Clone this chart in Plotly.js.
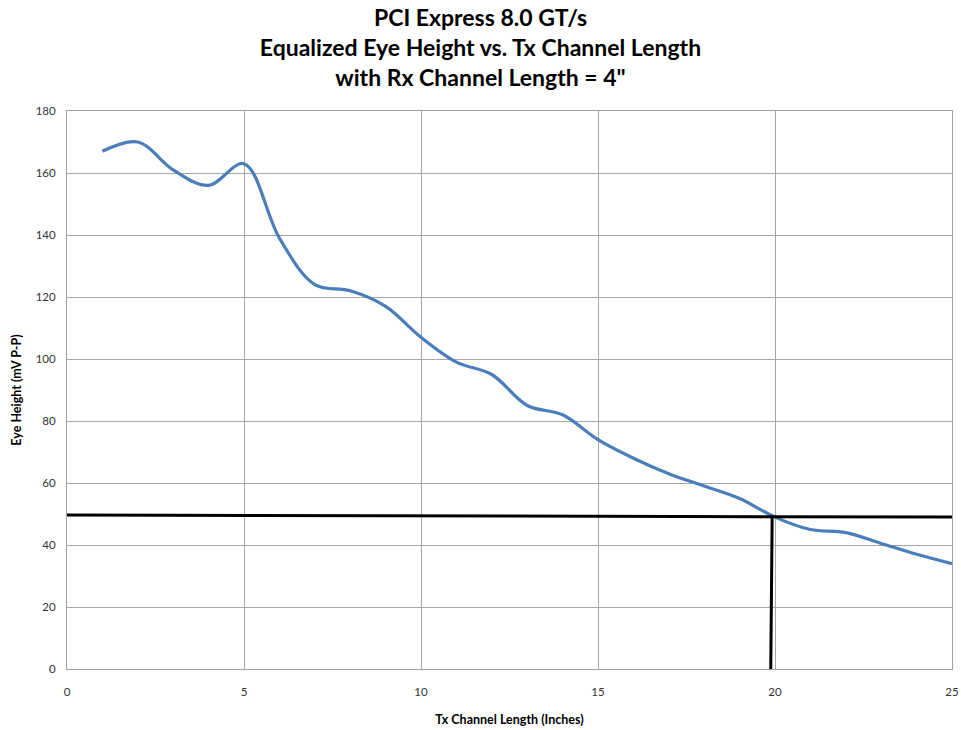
<!DOCTYPE html>
<html>
<head>
<meta charset="utf-8">
<script src="https://cdn.plot.ly/plotly-3.0.1.min.js"></script>
<style>html,body{margin:0;padding:0;background:#fff;}#chart{width:961px;height:730px;}</style>
</head>
<body>
<div id="chart"></div>
<script>
var txLength = [1,2,3,4,5,6,7,8,9,10,11,12,13,14,15,16,17,18,19,20,21,22,23,24,25];
var eyeHeight = [167,170,161,156,163,139,124,122,117,107,99,95,85,82,74,68,63,59,55,49,45,44,40.5,37,34];
var limitLineX = [0,25];
var limitLineY = [49.7,49.0];
var crossLineX = [19.92,19.88];
var crossLineY = [49.4,0];
var titleLines = ["PCI Express 8.0 GT/s","Equalized Eye Height vs. Tx Channel Length","with Rx Channel Length = 4\""];
var xTitle = "Tx Channel Length (Inches)";
var yTitle = "Eye Height (mV P-P)";

var traces = [
  {x: txLength, y: eyeHeight, mode: 'lines', line: {color: '#4a7ebb', width: 3.2, shape: 'spline', smoothing: 1}, hoverinfo: 'skip'},
  {x: limitLineX, y: limitLineY, mode: 'lines', line: {color: '#000000', width: 3}, hoverinfo: 'skip'},
  {x: crossLineX, y: crossLineY, mode: 'lines', line: {color: '#000000', width: 3}, hoverinfo: 'skip'}
];

var fontFam = 'Lato, "Open Sans", "Liberation Sans", sans-serif';
var layout = {
  width: 961, height: 730,
  paper_bgcolor: '#ffffff', plot_bgcolor: '#ffffff',
  showlegend: false,
  margin: {l: 67, r: 9, t: 111, b: 61},
  title: {text: '<b>' + titleLines.join('<br>') + '</b>', x: 0.5, xanchor: 'center', y: 0.964, yanchor: 'top', yref: 'container',
          font: {family: fontFam, size: 23, color: '#000000'}},
  xaxis: {range: [0,25], dtick: 5, tick0: 0, showgrid: true, gridcolor: '#a6a6a6', gridwidth: 1,
          showline: true, linecolor: '#a0a0a0', linewidth: 1, mirror: true, zeroline: false, ticks: '',
          ticklabelstandoff: 12,
          tickfont: {family: fontFam, size: 11.5, color: '#333333'},
          title: {text: '<b>' + xTitle + '</b>', font: {family: fontFam, size: 12.5, color: '#000000'}, standoff: 18}},
  yaxis: {range: [0,180], dtick: 20, tick0: 0, showgrid: true, gridcolor: '#a6a6a6', gridwidth: 1,
          showline: true, linecolor: '#a0a0a0', linewidth: 1, mirror: true, zeroline: false, ticks: '',
          ticklabelstandoff: 8,
          tickfont: {family: fontFam, size: 11.5, color: '#333333'},
          title: {text: '<b>' + yTitle + '</b>', font: {family: fontFam, size: 12.5, color: '#000000'}, standoff: 11}}
};

Plotly.newPlot('chart', traces, layout, {displayModeBar: false, staticPlot: true});
</script>
</body>
</html>
